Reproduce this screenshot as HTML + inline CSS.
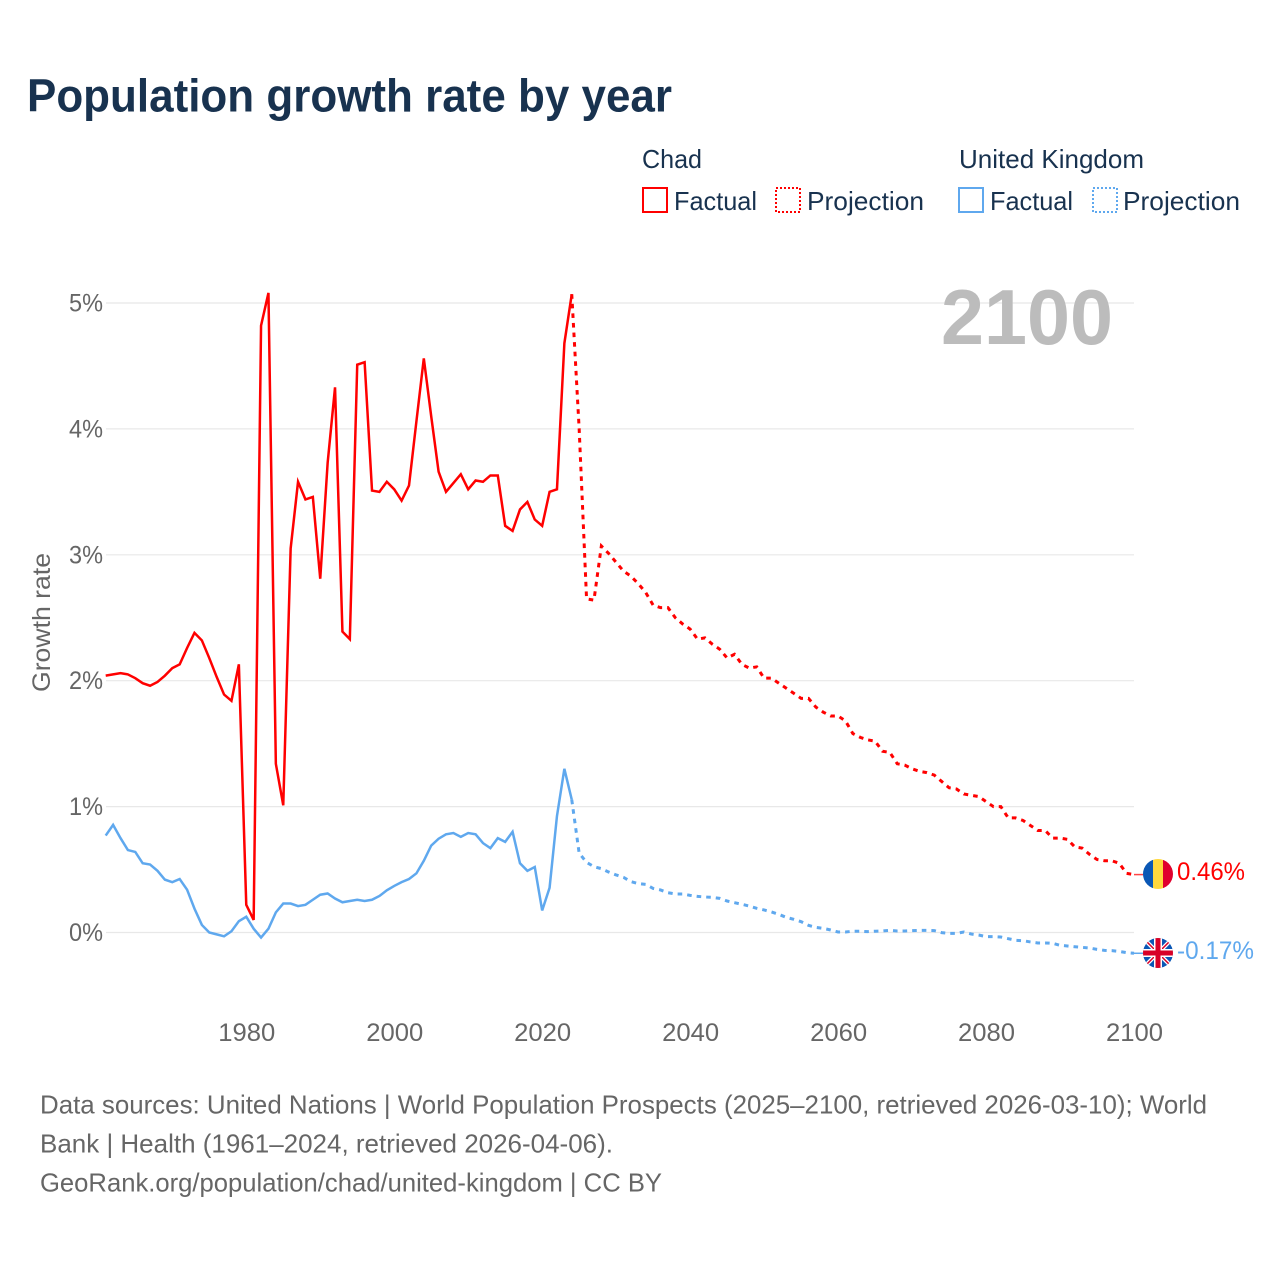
<!DOCTYPE html>
<html lang="en">
<head>
<meta charset="utf-8">
<title>Population growth rate by year</title>
<style>
html,body{margin:0;padding:0;background:#fff;width:1280px;height:1280px;overflow:hidden}
svg{display:block;font-family:"Liberation Sans",sans-serif}
</style>
</head>
<body>
<svg id="chart" xmlns="http://www.w3.org/2000/svg" width="1280" height="1280" viewBox="0 0 1280 1280">
  <rect width="1280" height="1280" fill="#fff"/>
  <text x="27" y="111.5" font-size="46" font-weight="700" fill="#18324f" textLength="645" lengthAdjust="spacingAndGlyphs">Population growth rate by year</text>

  <g font-size="26" fill="#18324f">
    <text x="642" y="168" textLength="60" lengthAdjust="spacingAndGlyphs">Chad</text>
    <text x="959" y="168" textLength="185" lengthAdjust="spacingAndGlyphs">United Kingdom</text>
    <g>
      <rect x="643" y="188" width="24" height="24" fill="none" stroke="#ff0000" stroke-width="2"/>
      <text x="674" y="210" textLength="83" lengthAdjust="spacingAndGlyphs">Factual</text>
    </g>
    <g>
      <rect x="776" y="188" width="24" height="24" fill="none" stroke="#ff0000" stroke-width="2" stroke-dasharray="2 2"/>
      <text x="807" y="210" textLength="117" lengthAdjust="spacingAndGlyphs">Projection</text>
    </g>
    <g>
      <rect x="959" y="188" width="24" height="24" fill="none" stroke="#5fa8ee" stroke-width="2"/>
      <text x="990" y="210" textLength="83" lengthAdjust="spacingAndGlyphs">Factual</text>
    </g>
    <g>
      <rect x="1093" y="188" width="24" height="24" fill="none" stroke="#5fa8ee" stroke-width="2" stroke-dasharray="2 2"/>
      <text x="1123" y="210" textLength="117" lengthAdjust="spacingAndGlyphs">Projection</text>
    </g>
  </g>

  <g id="grid"></g>
  <g id="ylabels" font-size="25" fill="#666"></g>
  <g id="xlabels" font-size="25" fill="#666"></g>

  <text transform="translate(50,692) rotate(-90)" font-size="25" fill="#666" textLength="139" lengthAdjust="spacingAndGlyphs">Growth rate</text>
  <text x="941" y="344" font-size="78" font-weight="700" fill="#bcbcbc" textLength="172" lengthAdjust="spacingAndGlyphs">2100</text>

  <g id="series"></g>

  <g>
    <clipPath id="clip-chad"><circle cx="1158" cy="874" r="15"/></clipPath>
    <g clip-path="url(#clip-chad)">
      <rect x="1143" y="859" width="10" height="30" fill="#0a57b5"/>
      <rect x="1153" y="859" width="10" height="30" fill="#ffd83d"/>
      <rect x="1163" y="859" width="10" height="30" fill="#e0002d"/>
    </g>
  </g>
  <g>
    <clipPath id="clip-uk"><circle cx="1158" cy="953" r="15"/></clipPath>
    <g clip-path="url(#clip-uk)">
      <rect x="1143" y="938" width="30" height="30" fill="#0a57b5"/>
      <path d="M1143 938L1173 968M1173 938L1143 968" stroke="#fff" stroke-width="4"/>
      <path d="M1143 938L1173 968M1173 938L1143 968" stroke="#d80027" stroke-width="1.5"/>
      <path d="M1158 938V968M1143 953H1173" stroke="#fff" stroke-width="8"/>
      <path d="M1158 938V968M1143 953H1173" stroke="#d80027" stroke-width="5"/>
    </g>
  </g>
  <text id="label-chad" x="1177" y="880" font-size="25" fill="#ff0000" textLength="68" lengthAdjust="spacingAndGlyphs">0.46%</text>
  <text id="label-uk" x="1177" y="959" font-size="25" fill="#5fa8ee" textLength="77" lengthAdjust="spacingAndGlyphs">-0.17%</text>

  <g font-size="26" fill="#666">
    <text x="40" y="1113.5" textLength="1167" lengthAdjust="spacingAndGlyphs">Data sources: United Nations | World Population Prospects (2025–2100, retrieved 2026-03-10); World</text>
    <text x="40" y="1152.5" textLength="573" lengthAdjust="spacingAndGlyphs">Bank | Health (1961–2024, retrieved 2026-04-06).</text>
    <text x="40" y="1191.5" textLength="622" lengthAdjust="spacingAndGlyphs">GeoRank.org/population/chad/united-kingdom | CC BY</text>
  </g>
</svg>
<script>
const startYearFactual = 1961;
const startYearProjection = 2024;
const yTicks = [0, 1, 2, 3, 4, 5];
const xTicks = [1980, 2000, 2020, 2040, 2060, 2080, 2100];

const chadFactual = [2.04,2.05,2.06,2.05,2.02,1.98,1.96,1.99,2.04,2.10,2.13,2.26,2.38,2.32,2.18,2.03,1.89,1.84,2.13,0.22,0.10,4.82,5.08,1.34,1.01,3.05,3.58,3.44,3.46,2.81,3.73,4.33,2.39,2.33,4.51,4.53,3.51,3.50,3.58,3.52,3.43,3.55,4.06,4.56,4.10,3.66,3.50,3.57,3.64,3.52,3.59,3.58,3.63,3.63,3.23,3.19,3.36,3.42,3.28,3.23,3.50,3.52,4.68,5.07];
const chadProjection = [5.07,4.00,2.65,2.64,3.07,3.01,2.94,2.87,2.83,2.77,2.70,2.60,2.58,2.58,2.50,2.45,2.41,2.33,2.34,2.29,2.25,2.18,2.21,2.13,2.10,2.11,2.02,2.02,1.98,1.94,1.90,1.86,1.86,1.79,1.75,1.72,1.72,1.68,1.58,1.55,1.53,1.52,1.44,1.43,1.34,1.33,1.30,1.28,1.27,1.25,1.20,1.15,1.14,1.10,1.09,1.08,1.04,1.00,1.00,0.91,0.91,0.89,0.85,0.81,0.81,0.75,0.75,0.74,0.68,0.67,0.62,0.58,0.57,0.57,0.55,0.47,0.46];
const ukFactual = [0.77,0.855,0.75,0.655,0.64,0.55,0.54,0.49,0.42,0.40,0.425,0.34,0.19,0.06,0,-0.015,-0.03,0.01,0.09,0.125,0.03,-0.04,0.03,0.16,0.23,0.23,0.21,0.22,0.26,0.30,0.31,0.27,0.24,0.25,0.26,0.25,0.26,0.29,0.335,0.37,0.40,0.425,0.47,0.57,0.69,0.745,0.78,0.79,0.76,0.79,0.78,0.71,0.67,0.75,0.72,0.80,0.55,0.49,0.52,0.175,0.355,0.925,1.30,1.055];
const ukProjection = [1.055,0.63,0.557,0.523,0.507,0.48,0.457,0.438,0.404,0.388,0.382,0.35,0.338,0.316,0.306,0.306,0.295,0.287,0.282,0.279,0.271,0.25,0.237,0.224,0.21,0.192,0.179,0.163,0.144,0.12,0.105,0.086,0.057,0.041,0.033,0.02,0.004,0.004,0.01,0.01,0.007,0.01,0.012,0.017,0.012,0.012,0.015,0.017,0.017,0.015,-0.001,-0.007,-0.007,0.004,-0.012,-0.02,-0.033,-0.033,-0.036,-0.049,-0.062,-0.065,-0.075,-0.083,-0.083,-0.086,-0.102,-0.107,-0.113,-0.118,-0.123,-0.134,-0.142,-0.144,-0.15,-0.16,-0.165];

const SVGNS = 'http://www.w3.org/2000/svg';
const xScale = year => 105.7 + (year - 1961) * (1134 - 105.7) / (2100 - 1961);
const yScale = value => 932.5 - value * 125.9;

function make(tag, parent) {
  const el = document.createElementNS(SVGNS, tag);
  parent.appendChild(el);
  return el;
}

const gridGroup = document.getElementById('grid');
const yLabelGroup = document.getElementById('ylabels');
const xLabelGroup = document.getElementById('xlabels');
const seriesGroup = document.getElementById('series');

yTicks.forEach(tick => {
  const line = make('line', gridGroup);
  
  
  line.setAttribute('x1', 106);
  line.setAttribute('x2', 1134);
  line.setAttribute('y1', yScale(tick));
  line.setAttribute('y2', yScale(tick));
  line.setAttribute('stroke', '#e8e8e8');
  line.setAttribute('stroke-width', 1.2);
  const label = make('text', yLabelGroup);
  
  
  label.setAttribute('x', 103);
  label.setAttribute('y', yScale(tick) + 8.5);
  label.setAttribute('text-anchor', 'end');
  label.setAttribute('textLength', 34);
  label.setAttribute('lengthAdjust', 'spacingAndGlyphs');
  label.textContent = tick + '%';
});

xTicks.forEach(tick => {
  const label = make('text', xLabelGroup);
  
  
  label.setAttribute('x', xScale(tick) + 0.5);
  label.setAttribute('y', 1041);
  label.setAttribute('text-anchor', 'middle');
  label.setAttribute('textLength', 57);
  label.setAttribute('lengthAdjust', 'spacingAndGlyphs');
  label.textContent = tick;
});

function pointsFor(values, startYear) {
  return values.map((v, i) => xScale(startYear + i).toFixed(2) + ',' + yScale(v).toFixed(2)).join(' ');
}

function drawSeries(values, startYear, color, dashed, name) {
  const line = make('polyline', seriesGroup);
  
  
  line.setAttribute('points', pointsFor(values, startYear));
  line.setAttribute('fill', 'none');
  line.setAttribute('stroke', color);
  line.setAttribute('stroke-width', dashed ? 3 : 2.5);
  line.setAttribute('stroke-linejoin', 'miter');
  if (dashed) {
    line.setAttribute('stroke-dasharray', '4.6 5');
  }
}

function drawLeader(values, color, name) {
  const last = values[values.length - 1];
  const leader = make('line', seriesGroup);
  
  
  leader.setAttribute('x1', xScale(2100));
  leader.setAttribute('x2', 1144);
  leader.setAttribute('y1', yScale(last));
  leader.setAttribute('y2', yScale(last));
  leader.setAttribute('stroke', color);
  leader.setAttribute('stroke-width', 1.5);
}

drawSeries(chadFactual, startYearFactual, '#ff0000', false, 'chad-factual-line');
drawSeries(chadProjection, startYearProjection, '#ff0000', true, 'chad-projection-line');
drawSeries(ukFactual, startYearFactual, '#5fa8ee', false, 'uk-factual-line');
drawSeries(ukProjection, startYearProjection, '#5fa8ee', true, 'uk-projection-line');
drawLeader(chadProjection, '#ff4444', 'chad-flag-leader');
drawLeader(ukProjection, '#5fa8ee', 'uk-flag-leader');
</script>
</body>
</html>
